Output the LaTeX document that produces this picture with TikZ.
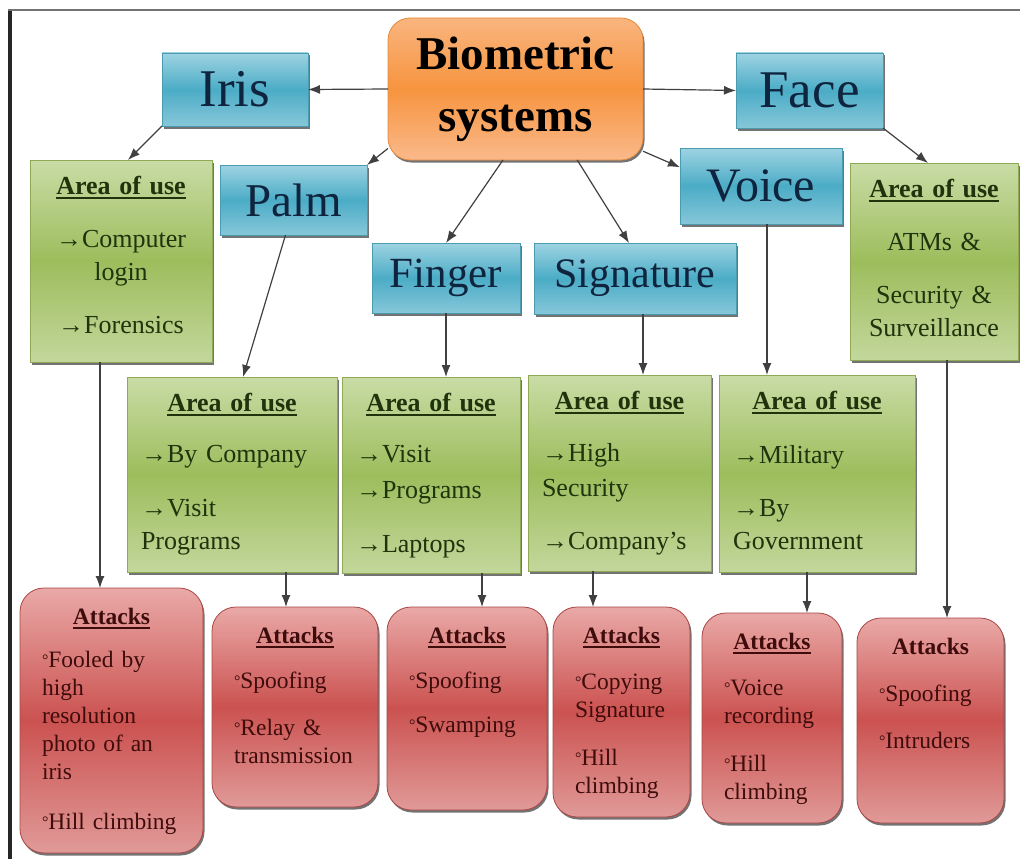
\documentclass[tikz,border=0pt]{standalone}
\usepackage{fontspec}
\setmainfont{Liberation Serif}
\usetikzlibrary{arrows.meta, shadows}

\definecolor{bluetop}{HTML}{9ED3E2}
\definecolor{bluemid}{HTML}{4BACC6}
\definecolor{bluebot}{HTML}{86C7D9}
\definecolor{blueline}{HTML}{4A9AB0}
\definecolor{bluetext}{HTML}{0F243E}
\definecolor{greentop}{HTML}{C9DCA6}
\definecolor{greenmid}{HTML}{9DBD5C}
\definecolor{greenbot}{HTML}{C3D79C}
\definecolor{greenline}{HTML}{8FAA55}
\definecolor{greentext}{HTML}{1F330C}
\definecolor{redtop}{HTML}{E9A9A7}
\definecolor{redmid}{HTML}{CB5250}
\definecolor{redbot}{HTML}{E09A98}
\definecolor{redline}{HTML}{A84644}
\definecolor{redtext}{HTML}{3F0C0C}
\definecolor{orangetop}{HTML}{F9B57F}
\definecolor{orangemid}{HTML}{F7943F}
\definecolor{orangebot}{HTML}{FAB98A}
\definecolor{orangeline}{HTML}{E48A3C}

\newcommand{\ulhead}[1]{\setbox0=\hbox{\bfseries #1}\rlap{\rule[-5pt]{\wd0}{2.2pt}}\box0}
\newcommand{\boxtitle}[1]{\makebox[\linewidth]{\ulhead{#1}}}
\newcommand{\bul}{\raisebox{2pt}{\fontsize{16}{16}\selectfont °}}

\tikzstyle{boxshadow} = [drop shadow={shadow xshift=1.5pt, shadow yshift=-2.5pt, fill=black, opacity=0.55}]
\tikzstyle{rootbox} = [rectangle, rounded corners=22pt, boxshadow, draw=orangeline, line width=0.8pt, top color=orangetop, bottom color=orangebot, middle color=orangemid, align=center, outer sep=0pt, inner sep=2pt, font=\bfseries\fontsize{47}{62}\selectfont]
\tikzstyle{trait} = [rectangle, boxshadow, draw=blueline, line width=0.8pt, top color=bluetop, bottom color=bluebot, middle color=bluemid, text=bluetext, outer sep=0pt, inner sep=2pt]
\tikzstyle{usebox} = [rectangle, boxshadow, draw=greenline, line width=0.8pt, top color=greentop, bottom color=greenbot, middle color=greenmid, text=greentext, anchor=north, outer sep=0pt, inner xsep=14pt, inner ysep=0pt, text height=34pt, align=left, font=\fontsize{26}{33}\selectfont]
\tikzstyle{attackbox} = [rectangle, rounded corners=24pt, boxshadow, draw=redline, line width=0.8pt, top color=redtop, bottom color=redbot, middle color=redmid, text=redtext, anchor=north, outer sep=0pt, inner xsep=22pt, inner ysep=0pt, text height=36pt, align=left, font=\fontsize{23.5}{28}\selectfont]
\tikzstyle{arrow} = [line width=1.2pt, draw=black!75, -{Latex[length=12pt,width=9pt]}]

\begin{document}
\begin{tikzpicture}[x=1pt, y=-1pt]
    \useasboundingbox (0,0) rectangle (1020,859);
    \fill[black!85] (8,9) rectangle (12,859);
    \fill[black!55] (8,9) rectangle (1020,11);

    % centre and the six traits
    \node (bio) [rootbox, minimum width=255pt, minimum height=142pt] at (515.5,89) {Biometric\\systems};
    \node (iris) [trait, minimum width=146pt, minimum height=73pt, font=\fontsize{53}{60}\selectfont] at (235,89.5) {Iris};
    \node (face) [trait, minimum width=147pt, minimum height=75pt, font=\fontsize{53}{60}\selectfont] at (809.5,90.5) {Face};
    \node (palm) [trait, minimum width=147pt, minimum height=70pt, font=\fontsize{47}{54}\selectfont] at (293.5,200) {Palm};
    \node (voice) [trait, minimum width=162pt, minimum height=76pt, font=\fontsize{48}{54}\selectfont] at (761,186) {Voice};
    \node (finger) [trait, minimum width=148pt, minimum height=70pt, font=\fontsize{43}{50}\selectfont] at (446,278) {Finger};
    \node (sig) [trait, minimum width=202pt, minimum height=71pt, font=\fontsize{42}{50}\selectfont] at (635,278.5) {Signature};

    % areas of use
    \node (irisarea) [usebox, align=center, text width=154pt, text depth=168pt] at (121,160) {\boxtitle{Area of use}\\[20pt]→Computer\\login\\[20pt]→Forensics};
    \node (facearea) [usebox, align=center, text width=140pt, text depth=163pt] at (934,163) {\boxtitle{Area of use}\\[20pt]ATMs \&\\[20pt]Security \&\\Surveillance};
    \node (palmarea) [usebox, text width=182pt, text depth=161pt] at (232,377) {\boxtitle{Area of use}\\[18pt]→By Company\\[21pt]→Visit\\Programs};
    \node (fingerarea) [usebox, text width=150pt, text depth=162pt] at (431,377) {\boxtitle{Area of use}\\[18pt]→Visit\\[3pt]→Programs\\[21pt]→Laptops};
    \node (sigarea) [usebox, text width=155pt, text depth=162pt] at (619.5,375) {\boxtitle{Area of use}\\[19pt]→High\\[2pt]Security\\[20pt]→Company's};
    \node (voicearea) [usebox, text width=168pt, text depth=163pt] at (817,375) {\boxtitle{Area of use}\\[21pt]→Military\\[20pt]→By\\Government};

    % attacks
    \node (irisatk) [attackbox, text width=139pt, text depth=229pt] at (111.5,588) {\boxtitle{Attacks}\\[15pt]\bul Fooled by\\high\\resolution\\photo of an\\iris\\[22pt]\bul Hill climbing};
    \node (palmatk) [attackbox, text width=122pt, text depth=164pt] at (295,607) {\boxtitle{Attacks}\\[17pt]\bul Spoofing\\[19pt]\bul Relay \&\\transmission};
    \node (fingeratk) [attackbox, text width=116pt, text depth=167pt] at (467,607) {\boxtitle{Attacks}\\[17pt]\bul Spoofing\\[16pt]\bul Swamping};
    \node (sigatk) [attackbox, text width=93pt, text depth=174pt] at (621.5,607) {\boxtitle{Attacks}\\[18pt]\bul Copying\\Signature\\[20pt]\bul Hill\\climbing};
    \node (voiceatk) [attackbox, text width=96pt, text depth=174pt] at (772,613) {\boxtitle{Attacks}\\[18pt]\bul Voice\\recording\\[20pt]\bul Hill\\climbing};
    \node (faceatk) [attackbox, text width=103pt, text depth=169pt] at (930.5,618) {\makebox[\linewidth]{\bfseries Attacks}\\[19pt]\bul Spoofing\\[19pt]\bul Intruders};

    \draw [arrow] (bio.west) -- (iris.east);
    \draw [arrow] (bio.east) -- (face.west);
    \draw [arrow] (bio.205) -- (palm.north east);
    \draw [arrow] (bio.260) -- (finger.north);
    \draw [arrow] (bio.311) -- ([xshift=-6pt]sig.north);
    \draw [arrow] (bio.334) -- (voice.167);

    \draw [arrow] (iris.south west) -- ([xshift=7pt]irisarea.north);
    \draw [arrow] (face.south east) -- ([xshift=-6pt]facearea.north);
    \draw [arrow] ([xshift=-8pt]palm.south) -- ([xshift=11pt]palmarea.north);
    \draw [arrow] (finger.south) -- (finger.south |- fingerarea.north);
    \draw [arrow] ([xshift=8pt]sig.south) -- ([xshift=23.5pt]sigarea.north);
    \draw [arrow] ([xshift=6pt]voice.south) -- ([xshift=-50pt]voicearea.north);

    \draw [arrow] ([xshift=-21pt]irisarea.south) -- ([xshift=-11.5pt]irisatk.north);
    \draw [arrow] ([xshift=54pt]palmarea.south) -- ([xshift=-9pt]palmatk.north);
    \draw [arrow] ([xshift=51pt]fingerarea.south) -- ([xshift=15pt]fingeratk.north);
    \draw [arrow] ([xshift=-26.5pt]sigarea.south) -- ([xshift=-28.5pt]sigatk.north);
    \draw [arrow] ([xshift=-10pt]voicearea.south) -- ([xshift=35pt]voiceatk.north);
    \draw [arrow] ([xshift=13pt]facearea.south) -- ([xshift=16.5pt]faceatk.north);
\end{tikzpicture}
\end{document}
